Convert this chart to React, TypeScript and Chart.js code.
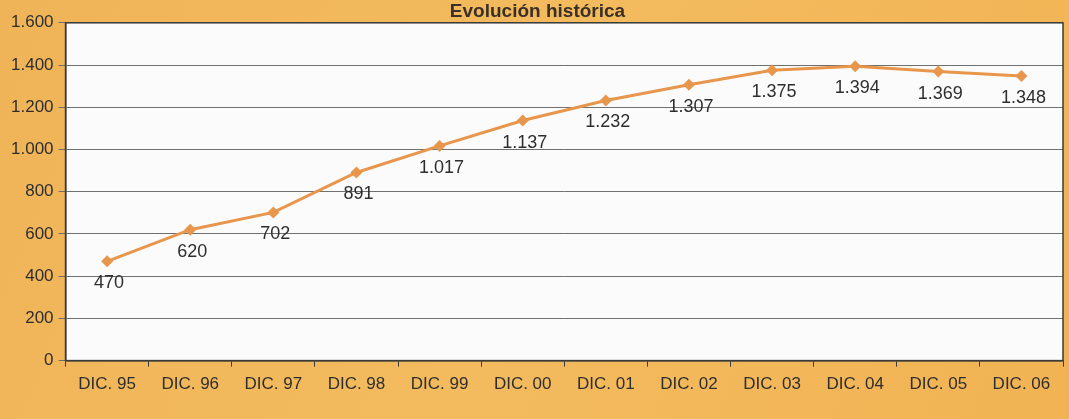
import React, { useEffect, useRef } from "react";
import { Chart, registerables } from "chart.js";

Chart.register(...registerables);

const categories = ["DIC. 95", "DIC. 96", "DIC. 97", "DIC. 98", "DIC. 99", "DIC. 00", "DIC. 01", "DIC. 02", "DIC. 03", "DIC. 04", "DIC. 05", "DIC. 06"];
const values = [470, 620, 702, 891, 1017, 1137, 1232, 1307, 1375, 1394, 1369, 1348];
const titleText = "Evolución histórica";

const fmt = (v: number) => String(Math.round(v)).replace(/\B(?=(\d{3})+(?!\d))/g, ".");

const bgPlugin = {
  id: "bgPlugin",
  beforeDraw(chart: any) {
    const { ctx, width, height, chartArea } = chart;
    ctx.save();
    const g = ctx.createLinearGradient(0, 0, width, height);
    g.addColorStop(0, "#f0b458");
    g.addColorStop(0.5, "#f3bb5e");
    g.addColorStop(1, "#f1b354");
    ctx.fillStyle = g;
    ctx.fillRect(0, 0, width, height);
    ctx.fillStyle = "#fbfbfc";
    ctx.fillRect(chartArea.left, chartArea.top, chartArea.right - chartArea.left, chartArea.bottom - chartArea.top);
    ctx.restore();
  },
  afterDatasetsDraw(chart: any) {
    const { ctx, chartArea } = chart;
    const meta = chart.getDatasetMeta(0);
    ctx.save();
    ctx.strokeStyle = "#3a3a3a";
    ctx.lineWidth = 1.5;
    ctx.strokeRect(chartArea.left, chartArea.top, chartArea.right - chartArea.left, chartArea.bottom - chartArea.top);
    ctx.font = "18px 'Liberation Sans', Arial, sans-serif";
    ctx.fillStyle = "#2e2e2e";
    ctx.textAlign = "center";
    ctx.textBaseline = "middle";
    meta.data.forEach((pt: any, i: number) => {
      ctx.fillText(fmt(values[i]), pt.x + 2, pt.y + 22);
    });
    ctx.restore();
  },
};

export default function App() {
  const ref = useRef<HTMLCanvasElement>(null);
  useEffect(() => {
    document.body.style.margin = "0";
    const chart = new Chart(ref.current!, {
      type: "line",
      data: {
        labels: categories,
        datasets: [
          {
            data: values,
            borderColor: "#e8964c",
            backgroundColor: "#e8964c",
            borderWidth: 3,
            pointStyle: "rectRot",
            pointRadius: 6,
            pointBorderWidth: 0,
            tension: 0,
          },
        ],
      },
      options: {
        animation: false,
        responsive: false,
        layout: { padding: { left: 6, right: 0, top: 0, bottom: 16 } },
        plugins: {
          legend: { display: false },
          tooltip: { enabled: false },
          title: {
            display: true,
            text: titleText,
            color: "#3a3028",
            font: { family: "'Liberation Sans', Arial, sans-serif", size: 19, weight: "bold" },
            padding: { top: 0, bottom: 0 },
          },
        },
        scales: {
          x: {
            offset: true,
            grid: { drawOnChartArea: false, drawTicks: true, tickLength: 6, offset: true, color: "#3a3a3a" },
            border: { display: true, color: "#3a3a3a", width: 1.5 },
            ticks: {
              color: "#2e2e2e",
              font: { family: "'Liberation Sans', Arial, sans-serif", size: 17 },
              padding: 8,
              maxRotation: 0,
              autoSkip: false,
            },
          },
          y: {
            min: 0,
            max: 1600,
            grid: { color: "#707070", lineWidth: 1, tickLength: 7, drawTicks: true },
            border: { display: true, color: "#3a3a3a", width: 1.5 },
            ticks: {
              stepSize: 200,
              color: "#2e2e2e",
              padding: 5,
              font: { family: "'Liberation Sans', Arial, sans-serif", size: 17 },
              callback: (v: any) => fmt(Number(v)),
            },
          },
        },
      },
      plugins: [bgPlugin],
    });
    return () => chart.destroy();
  }, []);
  return <canvas ref={ref} width={1069} height={419} style={{ display: "block" }} />;
}
